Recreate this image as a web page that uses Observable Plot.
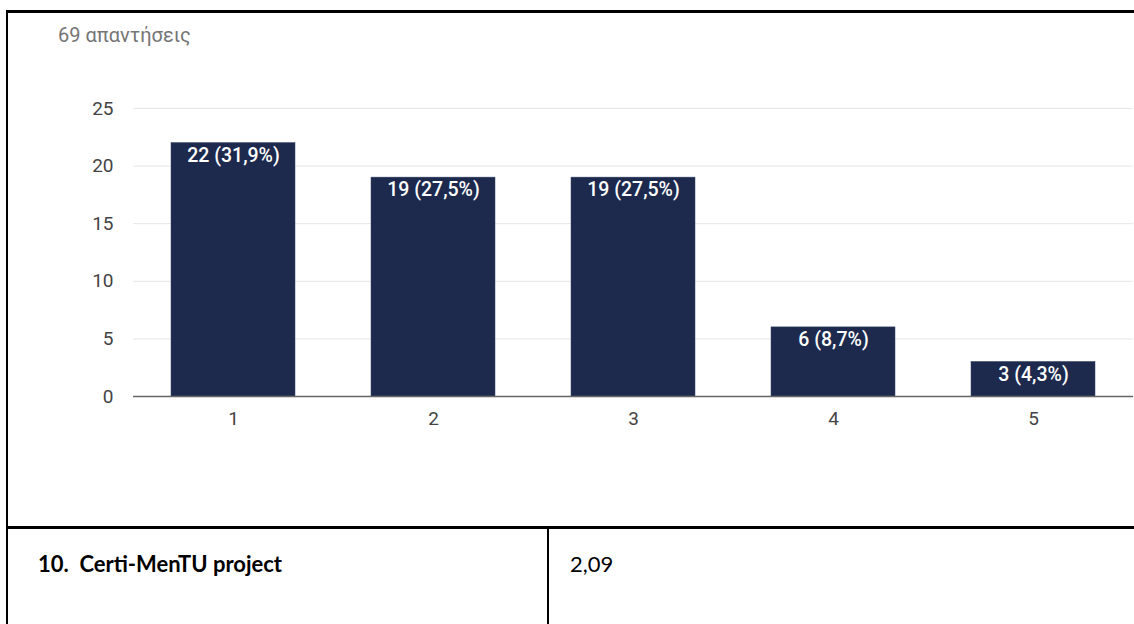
<!DOCTYPE html>
<html>
<head>
<meta charset="utf-8">
<script src="https://cdn.jsdelivr.net/npm/d3@7"></script>
<script src="https://cdn.jsdelivr.net/npm/@observablehq/plot@0.6"></script>
<style>
  html, body { margin: 0; padding: 0; background: #fff; }
  body { width: 1134px; height: 624px; position: relative; overflow: hidden; font-family: Roboto, "Liberation Sans", sans-serif; }
  .line { position: absolute; background: #000; }
  #chart { position: absolute; left: 0; top: 0; }
  #subtitle { position: absolute; left: 58px; top: 23px; font-size: 20px; color: #757575; font-family: Roboto, sans-serif; }
  #rowlabel { position: absolute; left: 38px; top: 550px; font-family: Lato, "Open Sans", sans-serif; font-weight: bold; font-size: 22px; color: #000; }
  #rowvalue { position: absolute; left: 570px; top: 550px; font-family: Lato, "Open Sans", sans-serif; font-size: 22px; color: #000; }
</style>
</head>
<body>
<div id="chart"></div>
<div id="subtitle"></div>
<div class="line" style="left:6px; top:10px; width:1128px; height:2.5px;"></div>
<div class="line" style="left:6px; top:10px; width:2px; height:614px;"></div>
<div class="line" style="left:6px; top:526px; width:1128px; height:2.5px;"></div>
<div class="line" style="left:547px; top:526px; width:2px; height:98px;"></div>
<div id="rowlabel"></div>
<div id="rowvalue"></div>
<script>
const categories = ["1", "2", "3", "4", "5"];
const counts = [22, 19, 19, 6, 3];
const labels = ["22 (31,9%)", "19 (27,5%)", "19 (27,5%)", "6 (8,7%)", "3 (4,3%)"];
const yTicks = [0, 5, 10, 15, 20, 25];
const subtitle = "69 απαντήσεις";
const rowLabel = "10.\u00A0 Certi-MenTU project";
const rowValue = "2,09";

const data = categories.map((c, i) => ({cat: c, count: counts[i], label: labels[i]}));

document.getElementById("subtitle").textContent = subtitle;
document.getElementById("rowlabel").textContent = rowLabel;
document.getElementById("rowvalue").textContent = rowValue;

const chart = Plot.plot({
  width: 1134,
  height: 440,
  marginLeft: 133,
  marginRight: 1,
  marginTop: 108,
  marginBottom: 44,
  style: { fontFamily: "Roboto, 'Liberation Sans', sans-serif", fontSize: "19px", color: "#444", background: "transparent" },
  x: { domain: categories, paddingInner: 0.38, paddingOuter: 0.19, label: null },
  y: { domain: [0, 25], label: null },
  marks: [
    Plot.gridY(yTicks, { stroke: "#e6e6e6", strokeOpacity: 1, strokeWidth: 1 }),
    Plot.barY(data, { x: "cat", y: "count", fill: "#1d2a4d", stroke: "#3a4668", strokeWidth: 0.5 }),
    Plot.text(data, { x: "cat", y: "count", text: "label", fill: "#fff", lineAnchor: "top", dy: 5, fontSize: 19.5, fontWeight: 500 }),
    Plot.ruleY([0], { stroke: "#666", strokeWidth: 1.5 }),
    Plot.axisY(yTicks, { tickSize: 0, tickPadding: 20, fontSize: 19 }),
    Plot.axisX({ tickSize: 0, tickPadding: 15, fontSize: 19 })
  ]
});
document.getElementById("chart").appendChild(chart);
</script>
</body>
</html>
